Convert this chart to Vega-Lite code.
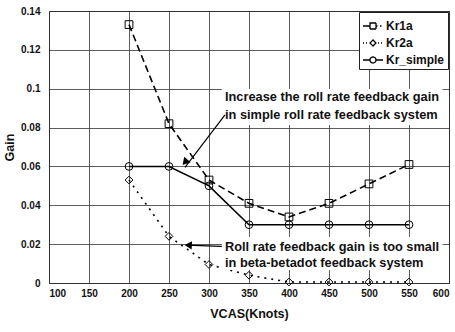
{
  "$schema": "https://vega.github.io/schema/vega-lite/v6.json",
  "width": 400,
  "height": 272,
  "autosize": {"type": "none"},
  "padding": {"left": 49, "top": 11, "right": 6, "bottom": 49},
  "background": "white",
  "config": {
    "font": "Liberation Sans",
    "view": {"stroke": "#222", "strokeWidth": 1},
    "axis": {
      "labelFont": "Liberation Sans",
      "labelFontWeight": "bold",
      "labelFontSize": 10,
      "labelColor": "#111",
      "labelOverlap": false,
      "titleFont": "Liberation Sans",
      "titleFontWeight": "bold",
      "titleFontSize": 12.5,
      "titleColor": "#111",
      "gridColor": "#333",
      "gridWidth": 0.8,
      "gridOpacity": 1,
      "domain": false,
      "ticks": false
    },
    "axisX": {"values": [100,150,200,250,300,350,400,450,500,550,600], "labelPadding": 5, "titlePadding": 9},
    "axisY": {"values": [0,0.02,0.04,0.06,0.08,0.1,0.12,0.14], "format": "~g", "labelPadding": 9, "titlePadding": 4},
    "legend": {
      "title": null, "orient": "top-right", "offset": 1, "fillColor": "white", "strokeColor": "#222",
      "padding": 3, "labelFont": "Liberation Sans", "labelFontWeight": "bold", "labelFontSize": 12,
      "labelColor": "#111", "symbolStrokeColor": "black", "symbolSize": 400, "symbolStrokeWidth": 1.3,
      "rowPadding": 0, "labelOffset": 2
    }
  },
  "datasets": {
    "series": [
      {"vcas": 200, "gain": 0.133, "series": "Kr1a"},
      {"vcas": 250, "gain": 0.082, "series": "Kr1a"},
      {"vcas": 300, "gain": 0.053, "series": "Kr1a"},
      {"vcas": 350, "gain": 0.041, "series": "Kr1a"},
      {"vcas": 400, "gain": 0.034, "series": "Kr1a"},
      {"vcas": 450, "gain": 0.041, "series": "Kr1a"},
      {"vcas": 500, "gain": 0.051, "series": "Kr1a"},
      {"vcas": 550, "gain": 0.061, "series": "Kr1a"},
      {"vcas": 200, "gain": 0.053, "series": "Kr2a"},
      {"vcas": 250, "gain": 0.024, "series": "Kr2a"},
      {"vcas": 300, "gain": 0.0095, "series": "Kr2a"},
      {"vcas": 350, "gain": 0.004, "series": "Kr2a"},
      {"vcas": 400, "gain": 0.0005, "series": "Kr2a"},
      {"vcas": 450, "gain": 0.0005, "series": "Kr2a"},
      {"vcas": 500, "gain": 0.0005, "series": "Kr2a"},
      {"vcas": 550, "gain": 0.0005, "series": "Kr2a"},
      {"vcas": 200, "gain": 0.06, "series": "Kr_simple"},
      {"vcas": 250, "gain": 0.06, "series": "Kr_simple"},
      {"vcas": 300, "gain": 0.05, "series": "Kr_simple"},
      {"vcas": 350, "gain": 0.03, "series": "Kr_simple"},
      {"vcas": 400, "gain": 0.03, "series": "Kr_simple"},
      {"vcas": 450, "gain": 0.03, "series": "Kr_simple"},
      {"vcas": 500, "gain": 0.03, "series": "Kr_simple"},
      {"vcas": 550, "gain": 0.03, "series": "Kr_simple"}
    ],
    "boxes": [
      {"x": 316, "x2": 592, "y": 0.0998, "y2": 0.0813},
      {"x": 316, "x2": 592, "y": 0.0237, "y2": 0.0067}
    ],
    "labels": [
      {"x": 320, "y": 0.0955, "text": "Increase the roll rate feedback gain"},
      {"x": 320, "y": 0.0867, "text": "in simple roll rate feedback system"},
      {"x": 320, "y": 0.0185, "text": "Roll rate feedback gain is too small"},
      {"x": 320, "y": 0.0105, "text": "in beta-betadot feedback system"}
    ],
    "arrows": [
      {"x": 320, "y": 0.0865, "x2": 270, "y2": 0.0595, "hx": 270, "hy": 0.0622, "angle": 221},
      {"x": 316, "y": 0.0188, "x2": 272, "y2": 0.0195, "hx": 274, "hy": 0.0195, "angle": 273}
    ]
  },
  "layer": [
    {
      "data": {"name": "series"},
      "transform": [{"filter": "datum.series === 'Kr1a'"}],
      "mark": {"type": "line", "strokeWidth": 1.6, "strokeDash": [7, 4]},
      "encoding": {
        "x": {"field": "vcas", "type": "quantitative", "scale": {"domain": [100, 600], "nice": false}, "title": "VCAS(Knots)"},
        "y": {"field": "gain", "type": "quantitative", "scale": {"domain": [0, 0.14], "nice": false}, "title": "Gain"},
        "color": {"field": "series", "type": "nominal", "scale": {"domain": ["Kr1a", "Kr2a", "Kr_simple"], "range": ["black", "black", "black"]},
          "legend": {"encode": {"symbols": {"update": {
            "shape": {"signal": "datum.value === 'Kr1a' ? 'M-1,0H-0.35M-0.3,-0.3H0.3V0.3H-0.3ZM0.3,0H0.45M0.7,0H0.85' : datum.value === 'Kr2a' ? 'M-1,0H-0.9M-0.7,0H-0.6M-0.3,0L0,-0.3L0.3,0L0,0.3ZM0.5,0H0.6M0.8,0H0.9' : 'M-1,0H-0.3M0.3,0H1M0.3,0A0.3,0.3 0 1,1 -0.3,0A0.3,0.3 0 1,1 0.3,0'"},
            "strokeDash": {"value": [1, 0]},
            "fill": {"value": "transparent"}
          }}}}}
      }
    },
    {
      "data": {"name": "series"},
      "transform": [{"filter": "datum.series === 'Kr2a'"}],
      "mark": {"type": "line", "strokeWidth": 1.6, "strokeDash": [2, 5]},
      "encoding": {
        "x": {"field": "vcas", "type": "quantitative", "title": "VCAS(Knots)"},
        "y": {"field": "gain", "type": "quantitative", "title": "Gain"},
        "color": {"field": "series", "type": "nominal"}
      }
    },
    {
      "data": {"name": "series"},
      "transform": [{"filter": "datum.series === 'Kr_simple'"}],
      "mark": {"type": "line", "strokeWidth": 1.6},
      "encoding": {
        "x": {"field": "vcas", "type": "quantitative", "title": "VCAS(Knots)"},
        "y": {"field": "gain", "type": "quantitative", "title": "Gain"},
        "color": {"field": "series", "type": "nominal"}
      }
    },
    {
      "data": {"name": "series"},
      "transform": [{"filter": "datum.series === 'Kr1a'"}],
      "mark": {"type": "point", "shape": "square", "filled": false, "color": "black", "size": 60, "strokeWidth": 1, "opacity": 1},
      "encoding": {
        "x": {"field": "vcas", "type": "quantitative", "title": "VCAS(Knots)"},
        "y": {"field": "gain", "type": "quantitative", "title": "Gain"}
      }
    },
    {
      "data": {"name": "series"},
      "transform": [{"filter": "datum.series === 'Kr2a'"}],
      "mark": {"type": "point", "shape": "diamond", "filled": false, "color": "black", "size": 60, "strokeWidth": 1, "opacity": 1},
      "encoding": {
        "x": {"field": "vcas", "type": "quantitative", "title": "VCAS(Knots)"},
        "y": {"field": "gain", "type": "quantitative", "title": "Gain"}
      }
    },
    {
      "data": {"name": "series"},
      "transform": [{"filter": "datum.series === 'Kr_simple'"}],
      "mark": {"type": "point", "shape": "circle", "filled": false, "color": "black", "size": 60, "strokeWidth": 1, "opacity": 1},
      "encoding": {
        "x": {"field": "vcas", "type": "quantitative", "title": "VCAS(Knots)"},
        "y": {"field": "gain", "type": "quantitative", "title": "Gain"}
      }
    },
    {
      "data": {"name": "boxes"},
      "mark": {"type": "rect", "fill": "white"},
      "encoding": {
        "x": {"field": "x", "type": "quantitative", "title": "VCAS(Knots)"},
        "x2": {"field": "x2"},
        "y": {"field": "y", "type": "quantitative", "title": "Gain"},
        "y2": {"field": "y2"}
      }
    },
    {
      "data": {"name": "labels"},
      "mark": {"type": "text", "align": "left", "baseline": "middle", "font": "Liberation Sans", "fontWeight": "bold", "fontSize": 12.8, "color": "#111"},
      "encoding": {
        "x": {"field": "x", "type": "quantitative", "title": "VCAS(Knots)"},
        "y": {"field": "y", "type": "quantitative", "title": "Gain"},
        "text": {"field": "text"}
      }
    },
    {
      "data": {"name": "arrows"},
      "mark": {"type": "rule", "color": "black", "strokeWidth": 1.2},
      "encoding": {
        "x": {"field": "x", "type": "quantitative", "title": "VCAS(Knots)"},
        "y": {"field": "y", "type": "quantitative", "title": "Gain"},
        "x2": {"field": "x2"},
        "y2": {"field": "y2"}
      }
    },
    {
      "data": {"name": "arrows"},
      "mark": {"type": "point", "shape": "triangle-up", "filled": true, "color": "black", "size": 70, "opacity": 1},
      "encoding": {
        "x": {"field": "hx", "type": "quantitative", "title": "VCAS(Knots)"},
        "y": {"field": "hy", "type": "quantitative", "title": "Gain"},
        "angle": {"field": "angle", "type": "quantitative", "scale": null}
      }
    }
  ]
}
